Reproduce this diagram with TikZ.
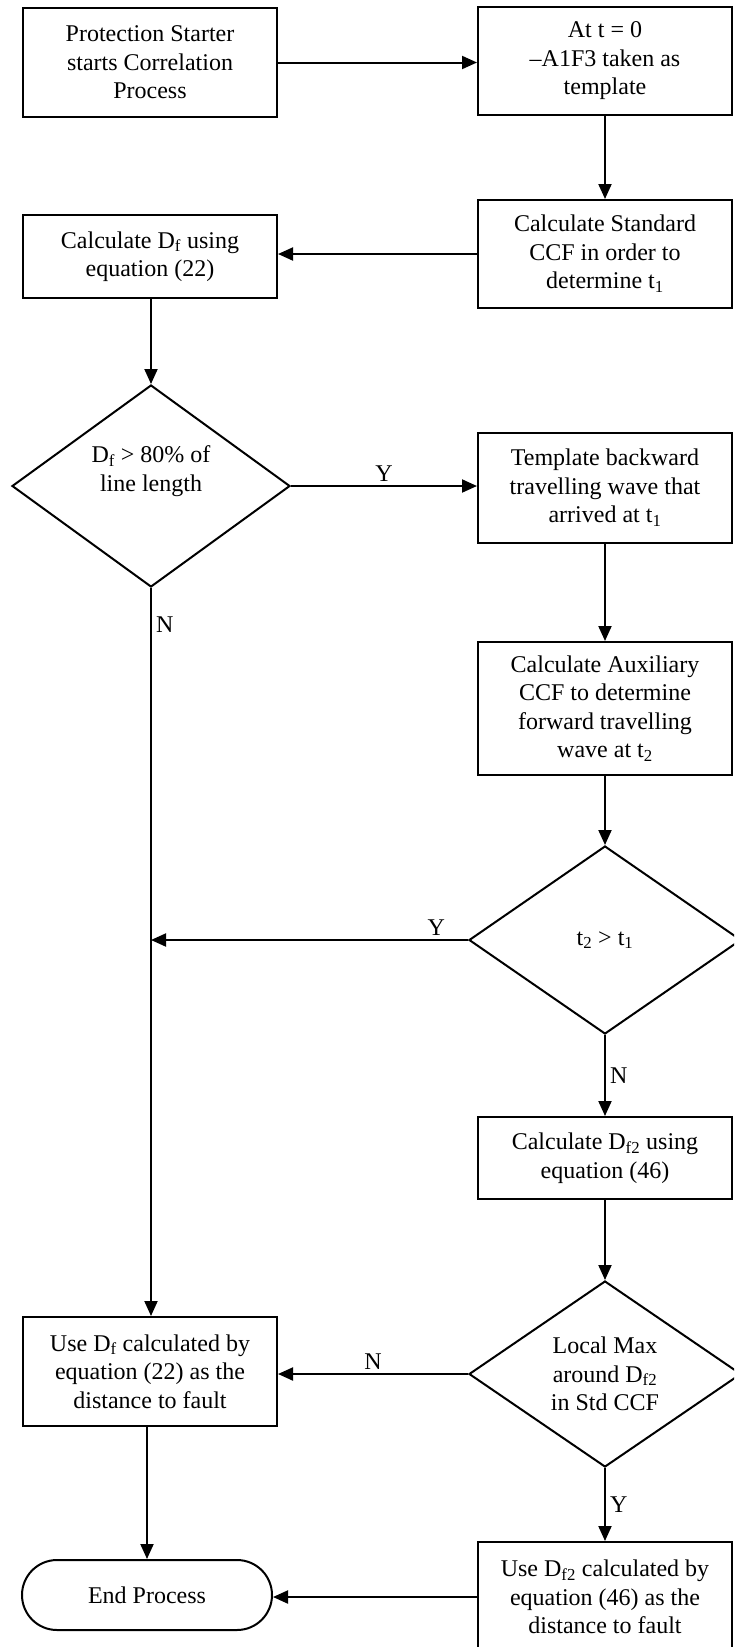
\documentclass[tikz,border=0pt]{standalone}
\usepackage{fontspec}
\setmainfont{Liberation Serif}
\usetikzlibrary{shapes.geometric,arrows.meta}

\begin{document}
\begin{tikzpicture}[x=1pt,y=-1pt,
  every node/.style={font=\fontsize{24}{28.5}\selectfont},
  procbox/.style={draw, line width=2pt, rectangle, minimum width=254pt,
    align=center, inner sep=0pt},
  decbox/.style={draw, line width=2pt, diamond, align=center, inner sep=0pt, aspect=1.4},
  termbox/.style={draw, line width=2pt, rectangle, rounded corners=35pt,
    minimum width=250pt, minimum height=70pt, inner sep=0pt},
  txt/.style={align=center, inner sep=0pt},
  lbl/.style={inner sep=4pt},
  flow/.style={line width=2pt, -{Triangle[length=15pt,width=13pt]}}]

% page frame
\useasboundingbox (0,0) rectangle (734,1647);
\fill[white] (0,0) rectangle (734,1647);
\clip (0,0) rectangle (734,1647);

% left column
\node[procbox, minimum height=109pt] (start) at (150,62.5)
  {Protection Starter\\starts Correlation\\Process};
\node[procbox, minimum height=83pt] (calcdf) at (150,256.5)
  {Calculate D\textsubscript{f} using\\equation (22)};
\node[decbox, minimum width=278pt, minimum height=202pt] (dec1) at (151,486) {};
\node[txt] at (151,471) {D\textsubscript{f} > 80\% of\\line length};
\node[procbox, minimum height=109pt] (usedf) at (150,1371.5)
  {Use D\textsubscript{f} calculated by\\equation (22) as the\\distance to fault};
\node[termbox] (finish) at (147,1595) {End Process};

% right column
\node[procbox, minimum height=108pt] (tzero) at (605,61)
  {At t = 0\\–A1F3 taken as\\template};
\node[procbox, minimum height=108pt] (stdccf) at (605,254)
  {Calculate Standard\\CCF in order to\\determine t\textsubscript{1}};
\node[procbox, minimum height=110pt] (templ) at (605,488)
  {Template backward\\travelling wave that\\arrived at t\textsubscript{1}};
\node[procbox, minimum height=133pt] (auxccf) at (605,708.5)
  {Calculate Auxiliary\\CCF to determine\\forward travelling\\wave at t\textsubscript{2}};
\node[decbox, minimum width=272pt, minimum height=188pt] (dec2) at (605,940)
  {t\textsubscript{2} > t\textsubscript{1}};
\node[procbox, minimum height=82pt] (calcdf2) at (605,1158)
  {Calculate D\textsubscript{f2} using\\equation (46)};
\node[decbox, minimum width=272pt, minimum height=186pt] (dec3) at (605,1374)
  {Local Max\\around D\textsubscript{f2}\\in Std CCF};
\node[procbox, minimum height=110pt] (usedf2) at (605,1597)
  {Use D\textsubscript{f2} calculated by\\equation (46) as the\\distance to fault};

% junction on the left trunk line
\coordinate (join) at (dec1.south |- dec2.west);

% connectors
\draw[flow] (start.east) -- (start.east -| tzero.west);
\draw[flow] (tzero.south) -- (stdccf.north);
\draw[flow] (stdccf.west) -- (stdccf.west -| calcdf.east);
\draw[flow] (calcdf.south -| dec1.north) -- (dec1.north);
\draw[flow] (dec1.east) -- node[lbl, above] {Y} (dec1.east -| templ.west);
\draw[flow] (dec1.south) -- node[lbl, right, pos=0.05] {N} (dec1.south |- usedf.north);
\draw[flow] (templ.south) -- (auxccf.north);
\draw[flow] (auxccf.south) -- (dec2.north);
\draw[flow] (dec2.west) -- node[lbl, above, pos=0.1] {Y} (join);
\draw[flow] (dec2.south) -- node[lbl, right] {N} (calcdf2.north);
\draw[flow] (calcdf2.south) -- (dec3.north);
\draw[flow] (dec3.west) -- node[lbl, above] {N} (dec3.west -| usedf.east);
\draw[flow] (dec3.south) -- node[lbl, right] {Y} (usedf2.north);
\draw[flow] (usedf.south -| finish.north) -- (finish.north);
\draw[flow] (usedf2.west) -- (usedf2.west -| finish.east);
\end{tikzpicture}
\end{document}
